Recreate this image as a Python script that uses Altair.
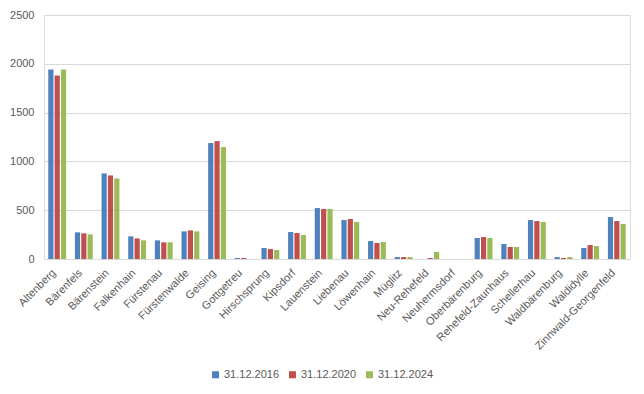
import altair as alt
import pandas as pd

places = ["Altenberg", "Bärenfels", "Bärenstein", "Falkenhain", "Fürstenau", "Fürstenwalde",
          "Geising", "Gottgetreu", "Hirschsprung", "Kipsdorf", "Lauenstein", "Liebenau",
          "Löwenhain", "Müglitz", "Neu-Rehefeld", "Neuhermsdorf", "Oberbärenburg",
          "Rehefeld-Zaunhaus", "Schellerhau", "Waldbärenburg", "Waldidylle", "Zinnwald-Georgenfeld"]
series = ["31.12.2016", "31.12.2020", "31.12.2024"]
v2016 = [1941, 273, 877, 232, 191, 283, 1188, 10, 113, 276, 522, 399, 184, 20, 0, 0, 215, 154, 399, 20, 113, 430]
v2020 = [1879, 263, 856, 211, 171, 293, 1208, 10, 102, 266, 512, 410, 164, 20, 10, 0, 225, 123, 389, 10, 143, 389]
v2024 = [1941, 252, 825, 191, 171, 283, 1147, 0, 92, 246, 512, 379, 174, 20, 72, 0, 215, 123, 379, 20, 133, 358]
colors = ["#4F81BD", "#C0504D", "#9BBB59"]
y_ticks = [0, 500, 1000, 1500, 2000, 2500]

rows = []
for s, vals in zip(series, [v2016, v2020, v2024]):
    for p, v in zip(places, vals):
        rows.append({"Ort": p, "Stichtag": s, "Wert": v})
df = pd.DataFrame(rows)

FONT = "Liberation Sans"
TXT = "#595959"

chart = alt.Chart(df).mark_bar().encode(
    x=alt.X("Ort:N", sort=places, title=None,
            scale=alt.Scale(paddingInner=0.33, paddingOuter=0.16),
            axis=alt.Axis(labelAngle=-45, labelAlign="right", labelBaseline="middle",
                          labelPadding=12, labelOffset=-3, ticks=False, domainColor="#D9D9D9",
                          labelColor=TXT, labelFont=FONT, labelFontSize=11,
                          labelOverlap=False, labelLimit=0)),
    xOffset=alt.XOffset("Stichtag:N", sort=series, scale=alt.Scale(paddingInner=0.18)),
    y=alt.Y("Wert:Q", title=None,
            scale=alt.Scale(domain=[0, 2500], nice=False),
            axis=alt.Axis(values=y_ticks, format="d", domain=False, ticks=False, labelPadding=10,
                          gridColor="#D9D9D9", labelColor=TXT, labelFont=FONT,
                          labelFontSize=11)),
    color=alt.Color("Stichtag:N", sort=series,
                    scale=alt.Scale(domain=series, range=colors),
                    legend=alt.Legend(title=None, orient="none", direction="horizontal",
                                      legendX=166, legendY=354, symbolType="square",
                                      symbolSize=50, symbolStrokeWidth=0,
                                      labelFont=FONT, labelFontSize=11, labelColor=TXT,
                                      columnPadding=7, labelOffset=3)),
).properties(
    width=586, height=244,
    autosize=alt.AutoSizeParams(type="none"),
    padding={"left": 36, "top": 7, "right": 6, "bottom": 127},
).configure_view(stroke=None).configure(background="white")

chart.save("out.html", embed_options={"renderer": "svg", "actions": False})
